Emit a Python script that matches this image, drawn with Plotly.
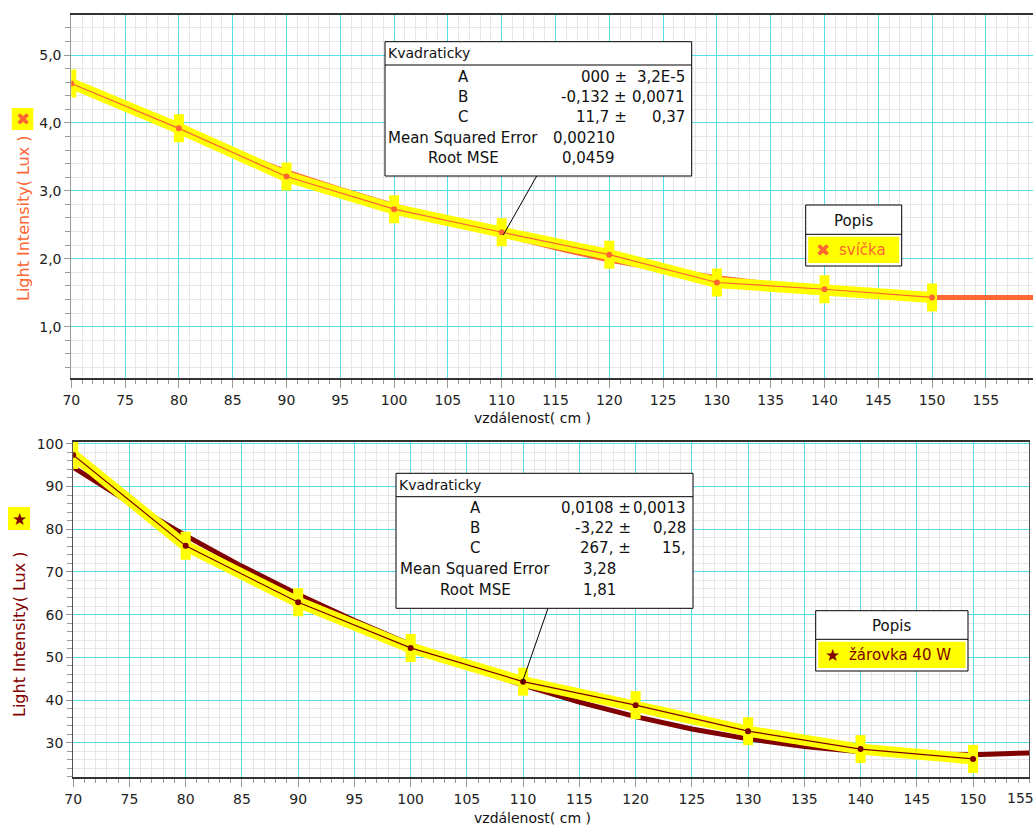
import plotly.graph_objects as go

W, H = 1033, 828

# ---------------- data ----------------
dist = [70, 80, 90, 100, 110, 120, 130, 140, 150]
candle_lux = [4.58, 3.92, 3.21, 2.73, 2.39, 2.06, 1.65, 1.55, 1.43]
bulb_lux = [97.4, 76.1, 62.9, 52.2, 44.3, 38.8, 32.7, 28.5, 26.2]

fit_x_top = [70, 75, 80, 85, 90, 95, 100, 105, 110, 115, 120, 125, 130, 135, 140, 145, 150, 155, 160]
candle_fit = [4.58, 4.24, 3.92, 3.58, 3.28, 3.02, 2.78, 2.56, 2.36, 2.16, 1.98, 1.84, 1.72, 1.62, 1.53, 1.47, 1.43, 1.43, 1.43]
fit_x_bot = [70, 75, 80, 85, 90, 95, 100, 105, 110, 115, 120, 125, 130, 135, 140, 145, 150, 155]
bulb_fit = [94.5, 86.2, 78.5, 71.3, 64.7, 58.6, 53.0, 47.9, 43.5, 39.5, 36.1, 33.2, 30.9, 29.1, 27.9, 27.3, 27.2, 27.6]

x_ticks = [70, 75, 80, 85, 90, 95, 100, 105, 110, 115, 120, 125, 130, 135, 140, 145, 150, 155]
x_ticktext = [str(v) for v in x_ticks]
y_ticks_top = [1, 2, 3, 4, 5]
y_ticktext_top = ["1,0", "2,0", "3,0", "4,0", "5,0"]
y_ticks_bot = [30, 40, 50, 60, 70, 80, 90, 100]
y_ticktext_bot = ["30", "40", "50", "60", "70", "80", "90", "100"]

fit_labels = ["A", "B", "C", "Mean Squared Error", "Root MSE"]
candle_params = [("000 ±", "3,2E-5"), ("-0,132 ±", "0,0071"), ("11,7 ±", "0,37")]
candle_stats = ["0,00210", "0,0459"]
bulb_params = [("0,0108 ±", "0,0013"), ("-3,22 ±", "0,28"), ("267, ±", "15,")]
bulb_stats = ["3,28", "1,81"]

fit_name = "Kvadraticky"
legend_title = "Popis"
candle_name = "svíčka"
bulb_name = "žárovka 40 W"
y_title = "Light Intensity( Lux )"
x_title = "vzdálenost( cm )"

# ---------------- style ----------------
ORANGE = "#FF6633"
DRED = "#800000"
YEL = "#FFFF00"
CYAN = "#55DDE8"
MINOR = "#E6E6E6"
FONT = "DejaVu Sans"


def px(x):
    return x / W


def py(y):
    return 1 - y / H


fig = go.Figure()


def add_series(xa, ya, fx, fy, color, xaxis, yaxis):
    fig.add_trace(go.Scatter(x=fx, y=fy, mode="lines", line=dict(color=color, width=5),
                             xaxis=xaxis, yaxis=yaxis, showlegend=False, hoverinfo="skip"))
    fig.add_trace(go.Scatter(x=xa, y=ya, mode="lines+markers", line=dict(color=YEL, width=11),
                             marker=dict(symbol="line-ns", size=20, line=dict(color=YEL, width=10)),
                             xaxis=xaxis, yaxis=yaxis, showlegend=False, hoverinfo="skip"))
    fig.add_trace(go.Scatter(x=xa, y=ya, mode="lines+markers", line=dict(color=color, width=1.2),
                             marker=dict(symbol="circle", size=6, color=color),
                             xaxis=xaxis, yaxis=yaxis, showlegend=False))


add_series(dist, candle_lux, fit_x_top, candle_fit, ORANGE, "x", "y")
add_series(dist, bulb_lux, fit_x_bot, bulb_fit, DRED, "x2", "y2")

tickfont = dict(family=FONT, size=14, color="#222222")


def xaxis_cfg(domain, rng, anchor, tv, tt):
    return dict(domain=domain, range=rng, tickmode="array", tickvals=tv, ticktext=tt,
                showgrid=True, gridcolor=CYAN, gridwidth=1, zeroline=False, anchor=anchor,
                automargin=False,
                ticks="outside", ticklen=8, tickcolor="#999999", tickfont=tickfont,
                showline=True, linecolor="#333333", linewidth=2, mirror=True,
                minor=dict(dtick=1, tick0=70, showgrid=True, gridcolor=MINOR, gridwidth=1,
                           ticks="outside", ticklen=4, tickcolor="#999999"))


def yaxis_cfg(domain, rng, tv, tt, mdt, anchor):
    return dict(domain=domain, range=rng, tickmode="array", tickvals=tv, ticktext=tt,
                showgrid=True, gridcolor=CYAN, gridwidth=1, zeroline=False, anchor=anchor,
                automargin=False,
                ticks="outside", ticklen=6, tickcolor="#999999", tickfont=tickfont,
                showline=True, linecolor="#999999", linewidth=1,
                minor=dict(dtick=mdt, tick0=0, showgrid=True, gridcolor=MINOR, gridwidth=1,
                           ticks="outside", ticklen=5, tickcolor="#999999"))


fig.update_layout(
    width=W, height=H, margin=dict(l=0, r=0, t=0, b=0, pad=0, autoexpand=False),
    paper_bgcolor="white", plot_bgcolor="white", showlegend=False,
    xaxis=xaxis_cfg([px(71.3), 1.0], [70, 159.38], "y", x_ticks, x_ticktext),
    yaxis=yaxis_cfg([py(378.3), py(15)], [0.239, 5.589], y_ticks_top, y_ticktext_top, 0.2, "x"),
    xaxis2=xaxis_cfg([px(73.2), px(1029.3)], [70, 155.0], "y2", x_ticks[:-1], x_ticktext[:-1]),
    yaxis2=yaxis_cfg([py(777.3), py(442)], [21.9, 100.42], y_ticks_bot, y_ticktext_bot, 2, "x2"),
)
fig.layout.yaxis2.mirror = True
fig.layout.yaxis2.linecolor = "#555555"

shapes = []
annots = []


def rect(x0, y0, x1, y1, fill="white", line="black", lw=1):
    shapes.append(dict(type="rect", xref="paper", yref="paper", x0=px(x0), x1=px(x1),
                       y0=py(y1), y1=py(y0), fillcolor=fill,
                       line=dict(color=line, width=lw) if lw else dict(width=0)))


def seg(x0, y0, x1, y1, color="black", lw=1):
    shapes.append(dict(type="line", xref="paper", yref="paper", x0=px(x0), x1=px(x1),
                       y0=py(y0), y1=py(y1), line=dict(color=color, width=lw)))


def text(x, y, s, anchor="center", color="#111111", size=15, angle=0, bg=None):
    d = dict(xref="paper", yref="paper", x=px(x), y=py(y), text=s, showarrow=False,
             xanchor=anchor, yanchor="middle", textangle=angle,
             font=dict(family=FONT, size=size, color=color), borderpad=0)
    if bg:
        d["bgcolor"] = bg
    annots.append(d)


def fit_box(x0, y0, x1, y1, sep, rows_y, lab_cx, p1_r, p2_r, st_r, params, stats, leader):
    seg(leader[0], leader[1], leader[2], leader[3], "black", 1)
    rect(x0, y0, x1, y1)
    seg(x0, sep, x1, sep, "black", 1)
    text(x0 + 2, (y0 + sep) / 2, fit_name, anchor="left", size=14)
    for i, lab in enumerate(fit_labels):
        text(lab_cx, rows_y[i], lab)
    for i, (a, b) in enumerate(params):
        text(p1_r, rows_y[i], a, anchor="right")
        text(p2_r, rows_y[i], b, anchor="right")
    for i, s in enumerate(stats):
        text(st_r, rows_y[3 + i], s, anchor="right")


fit_box(385, 41.7, 691.7, 176, 65, [76.7, 96.7, 116.7, 138.3, 158.3], 463, 628, 686, 616,
        candle_params, candle_stats, (536.7, 176, 503.3, 235))
fit_box(396, 473.3, 693, 608.3, 496.7, [507.7, 527.7, 548.3, 569.3, 590], 475, 632, 687, 617,
        bulb_params, bulb_stats, (548, 608.3, 522, 683))


def legend_box(x0, y0, x1, y1, sep, icon, icolor, name):
    rect(x0, y0, x1, y1)
    seg(x0, sep, x1, sep, "black", 1)
    rect(x0 + 2.5, sep + 2.5, x1 - 2.5, y1 - 3, fill=YEL, lw=0)
    text((x0 + x1) / 2, (y0 + sep) / 2 + 1, legend_title, size=15)
    ym = (sep + y1) / 2
    text(x0 + 17, ym, icon, color=icolor, size=17)
    text(x0 + 32, ym, name, anchor="left", color=icolor, size=15)


legend_box(805.7, 205, 901.7, 266, 234.3, "✖", ORANGE, candle_name)
legend_box(815.7, 610.7, 968, 671, 639.3, "★", DRED, bulb_name)

# y-axis titles with icons
rect(11.7, 108, 33.3, 130, fill=YEL, lw=0)
text(22.5, 119, "✖", color=ORANGE, size=17)
text(23, 218, y_title, color=ORANGE, size=16, angle=-90)
rect(8, 507, 30, 530, fill=YEL, lw=0)
text(19, 518.5, "★", color=DRED, size=17)
text(19, 634, y_title, color=DRED, size=16, angle=-90)

# last bottom tick label, shifted inside the figure as in the original
text(1020, 798, x_ticktext[-1], size=14, color="#222222")

# x-axis titles
text(532, 418, x_title, size=14)
text(532, 818, x_title, size=14)

fig.update_layout(shapes=shapes, annotations=annots)
fig.write_html("out.html", config={"displayModeBar": False},
               post_script="document.body.style.margin='0';document.body.style.overflow='hidden';")
